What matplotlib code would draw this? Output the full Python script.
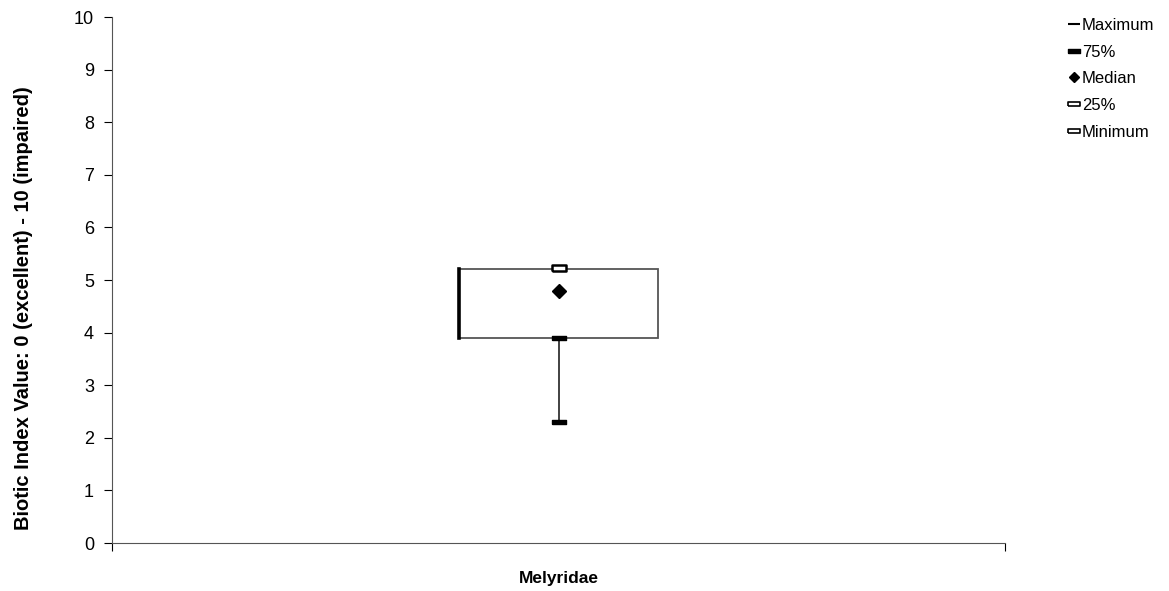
import matplotlib
matplotlib.use('Agg')
import matplotlib.pyplot as plt
from matplotlib import font_manager
from matplotlib.lines import Line2D
from matplotlib.patches import Rectangle

# data
category = ['Melyridae']
maximum = [5.2]
q75 = [3.9]
median = [4.8]
q25 = [5.22]
minimum = [2.3]
box_low = [3.9]
box_high = [5.2]
legend_labels = ['Maximum', '75%', 'Median', '25%', 'Minimum']

plt.rcParams['font.family'] = ['Liberation Sans', 'DejaVu Sans']

installed = {f.name for f in font_manager.fontManager.ttflist}
narrow = 'Liberation Sans Narrow' in installed

fig = plt.figure(figsize=(11.69, 5.91), dpi=100)
ax = fig.add_axes([0.0958, 0.0812, 0.764, 0.890])

# marker shapes
thick_dash = [(-1, -0.28), (1, -0.28), (1, 0.28), (-1, 0.28), (-1, -0.28)]
hollow_bar = [(-1, -0.4), (1, -0.4), (1, 0.4), (-1, 0.4), (-1, -0.4)]

x = [0.5]
hw = 0.111
gray = '#555555'

# high-low line
ax.vlines(x, minimum, box_high, color='#333333', lw=1.3, zorder=1)

# up-down bar
for xi, lo, hi in zip(x, box_low, box_high):
    ax.add_patch(Rectangle((xi - hw, lo), 2 * hw, hi - lo, facecolor='white',
                           edgecolor=gray, lw=1.3, zorder=2))
    ax.plot([xi - hw, xi - hw], [lo, hi], color='black', lw=2.6, zorder=3)

ax.plot(x, minimum, ls='none', marker=thick_dash, ms=10, color='black', zorder=4)
ax.plot(x, q75, ls='none', marker=thick_dash, ms=10, color='black', zorder=4)
ax.plot(x, median, ls='none', marker='D', ms=7, color='black', zorder=4)
ax.plot(x, q25, ls='none', marker=hollow_bar, ms=10, mfc='white', mec='black',
        mew=1.8, zorder=5)

ax.set_xlim(0, 1)
ax.set_ylim(0, 10)
ax.set_yticks(range(0, 11))
ax.set_xticks([0, 1])
ax.set_xticklabels(['', ''])
ax.tick_params(axis='y', direction='out', length=6, labelsize=13, pad=7)
ax.tick_params(axis='x', direction='out', length=6)
for s in ['top', 'right']:
    ax.spines[s].set_visible(False)
ax.spines['left'].set_color(gray)
ax.spines['bottom'].set_color(gray)

ax.text(0.5, -0.068, category[0], transform=ax.transAxes, ha='center', va='center',
        fontsize=12.5, fontweight='bold')

ylab = 'Biotic Index Value: 0 (excellent) - 10 (impaired)'
if narrow:
    fig.text(0.0205, 0.479, ylab, rotation=90, ha='center', va='center',
             fontsize=17.5, fontweight='bold', family='Liberation Sans Narrow')
else:
    fig.text(0.0205, 0.479, ylab, rotation=90, ha='center', va='center',
             fontsize=14.5, fontweight='bold')

handles = [
    Line2D([], [], ls='none', marker='_', ms=8, mew=1.5, color='black'),
    Line2D([], [], ls='none', marker=thick_dash, ms=8, color='black'),
    Line2D([], [], ls='none', marker='D', ms=5, color='black'),
    Line2D([], [], ls='none', marker=hollow_bar, ms=8, mfc='white', mec='black', mew=1.2),
    Line2D([], [], ls='none', marker=hollow_bar, ms=8, mfc='white', mec='black', mew=1.2),
]
leg = fig.legend(handles, legend_labels, loc='upper left', bbox_to_anchor=(0.902, 0.995),
                 frameon=False, fontsize=12, handlelength=0.5, handletextpad=0.25,
                 labelspacing=0.7)

fig.savefig('out.png', dpi=100)
